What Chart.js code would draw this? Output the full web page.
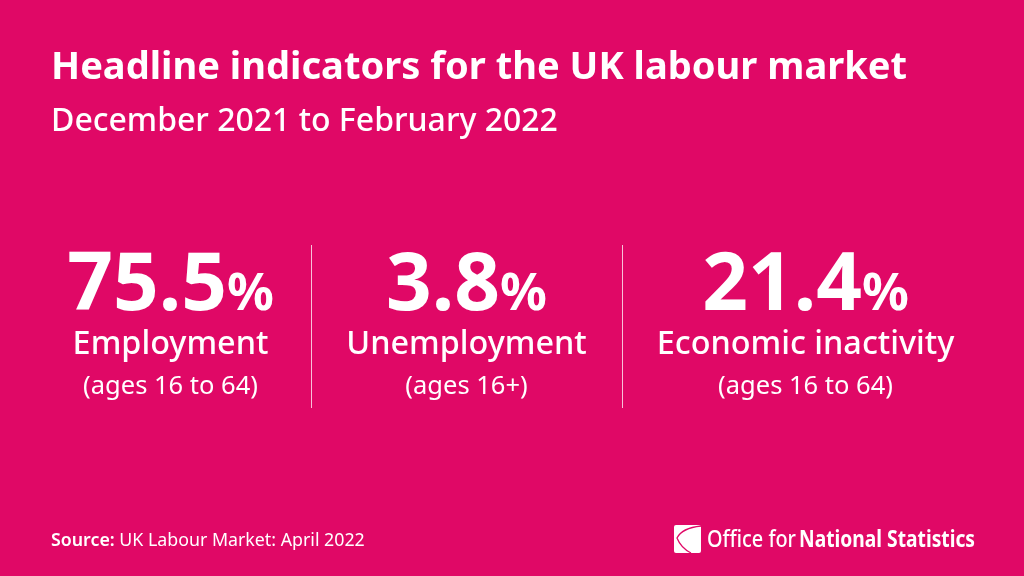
<!DOCTYPE html>
<html>
<head>
<meta charset="utf-8">
<title>Headline indicators for the UK labour market</title>
<script src="https://cdn.jsdelivr.net/npm/chart.js@4"></script>
<style>
  html, body { margin: 0; padding: 0; background: #e00866; }
  canvas { display: block; }
</style>
</head>
<body>
<canvas id="headline" width="1024" height="576"></canvas>
<script>
// Data
const categories = ["Employment", "Unemployment", "Economic inactivity"];
const values = [75.5, 3.8, 21.4];
const ageRanges = ["(ages 16 to 64)", "(ages 16+)", "(ages 16 to 64)"];

const titleText = "Headline indicators for the UK labour market";
const subtitleText = "December 2021 to February 2022";
const sourceLabel = "Source:";
const sourceText = "UK Labour Market: April 2022";

const PINK = "#e00866";
const WHITE = "#ffffff";
const FONT = '"Noto Sans", sans-serif';

// the text blocks do not sit exactly in the middle of their column
const columnShift = [15, 0, 28];

function drawLogo(ctx) {
  const x = 674, y = 525, s = 27;
  ctx.fillStyle = WHITE;
  ctx.beginPath();
  ctx.roundRect(x, y, s, s + 1, 2);
  ctx.fill();
  ctx.strokeStyle = PINK;
  ctx.lineWidth = 1.3;
  ctx.beginPath();
  ctx.moveTo(x + s, y + 1);
  ctx.quadraticCurveTo(x + 8, y + 3, x + 3, y + 13);
  ctx.quadraticCurveTo(x + 7, y + 23, x + 17, y + s + 1);
  ctx.stroke();

  ctx.fillStyle = WHITE;
  ctx.textAlign = "left";
  ctx.font = "500 24px " + FONT;
  ctx.fillText("Office for", 707, 547, 89);
  ctx.font = "700 24px " + FONT;
  ctx.fillText("National Statistics", 799, 547, 176);
}

const textPlugin = {
  id: "textPlugin",
  beforeDraw(chart) {
    const ctx = chart.ctx;
    ctx.save();
    ctx.fillStyle = PINK;
    ctx.fillRect(0, 0, chart.width, chart.height);
    ctx.restore();
  },
  afterDraw(chart) {
    const ctx = chart.ctx;
    const points = chart.getDatasetMeta(0).data;
    ctx.save();
    ctx.fillStyle = WHITE;
    ctx.textBaseline = "alphabetic";

    // heading
    ctx.textAlign = "left";
    ctx.font = "700 38.1px " + FONT;
    ctx.fillText(titleText, 51, 79);
    ctx.font = "500 32px " + FONT;
    ctx.fillText(subtitleText, 51, 131);

    // one column per indicator
    points.forEach((point, i) => {
      const cx = point.x + columnShift[i];
      const number = values[i].toFixed(1);

      ctx.font = "700 80px " + FONT;
      const numberWidth = ctx.measureText(number).width;
      ctx.font = "700 52px " + FONT;
      const percentWidth = ctx.measureText("%").width;
      const left = cx - (numberWidth + percentWidth) / 2;

      ctx.textAlign = "left";
      ctx.font = "700 80px " + FONT;
      ctx.fillText(number, left, 310);
      ctx.font = "700 52px " + FONT;
      ctx.fillText("%", left + numberWidth, 310);

      ctx.textAlign = "center";
      ctx.font = "500 32.4px " + FONT;
      ctx.fillText(categories[i], cx, 354);
      ctx.font = "400 25.5px " + FONT;
      ctx.fillText(ageRanges[i], cx, 394);
    });

    // footer
    ctx.textAlign = "left";
    ctx.font = "600 17.8px " + FONT;
    ctx.fillText(sourceLabel, 51, 546);
    const sourceWidth = ctx.measureText(sourceLabel + " ").width;
    ctx.font = "400 17.8px " + FONT;
    ctx.fillText(sourceText, 51 + sourceWidth, 546);

    drawLogo(ctx);
    ctx.restore();
  }
};

new Chart(document.getElementById("headline"), {
  type: "line",
  data: {
    labels: categories,
    datasets: [{
      label: "Headline indicators",
      data: values,
      showLine: false,
      pointRadius: 0
    }]
  },
  options: {
    responsive: false,
    animation: false,
    devicePixelRatio: 1,
    layout: { padding: { left: 0, right: 91, top: 245, bottom: 168 } },
    plugins: { legend: { display: false }, tooltip: { enabled: false } },
    scales: {
      x: {
        offset: true,
        border: { display: false },
        ticks: { display: false },
        grid: {
          offset: true,
          drawTicks: false,
          lineWidth: 1,
          // only the two lines between the columns
          color: c => (c.index === 1 || c.index === 2) ? "rgba(255,255,255,0.75)" : "rgba(0,0,0,0)"
        }
      },
      y: { display: false, min: 0, max: 100 }
    }
  },
  plugins: [textPlugin]
});
</script>
</body>
</html>
